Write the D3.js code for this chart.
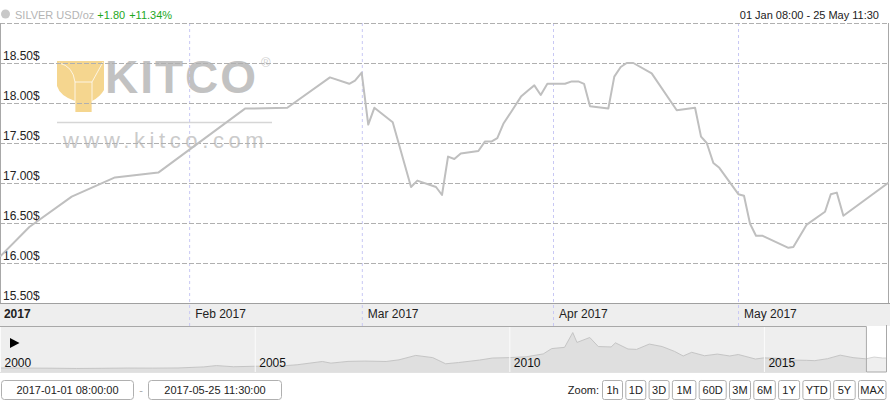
<!DOCTYPE html>
<html><head><meta charset="utf-8">
<script src="https://cdn.jsdelivr.net/npm/d3@7"></script>
<style>
html,body{margin:0;padding:0;background:#fff;}
svg{display:block;font-family:"Liberation Sans",Arial,sans-serif;}
</style></head>
<body><svg id="c" width="890" height="400"></svg>
<script>
// ---- main series: silver price (USD/oz), 2017
const dates = ["2017-01-01 08:00","2017-01-06 02:00","2017-01-12 23:00","2017-01-19 23:30","2017-01-27 00:00",
"2017-02-10 01:30","2017-02-16 22:00","2017-02-23 20:00","2017-02-26 23:00","2017-02-27 21:30","2017-02-28 23:30",
"2017-03-02 01:00","2017-03-03 00:45","2017-03-06 00:15","2017-03-08 23:30","2017-03-10 00:00","2017-03-13 00:45",
"2017-03-14 00:00","2017-03-14 23:30","2017-03-16 00:00","2017-03-17 01:00","2017-03-19 21:30","2017-03-20 23:30",
"2017-03-22 01:30","2017-03-22 23:15","2017-03-23 22:45","2017-03-25 07:30","2017-03-26 19:30","2017-03-28 00:00",
"2017-03-28 23:15","2017-03-30 00:15","2017-03-31 02:00","2017-04-02 22:45","2017-04-04 01:00","2017-04-05 02:30",
"2017-04-06 00:45","2017-04-07 00:00","2017-04-09 23:15","2017-04-10 22:30","2017-04-11 23:30","2017-04-12 22:45",
"2017-04-14 00:30","2017-04-17 00:00","2017-04-21 01:30","2017-04-24 00:45","2017-04-25 00:00","2017-04-25 22:15",
"2017-04-27 00:00","2017-04-27 23:15","2017-05-01 01:15","2017-05-01 23:15","2017-05-02 22:45","2017-05-03 22:00",
"2017-05-05 00:00","2017-05-09 04:00","2017-05-09 23:15","2017-05-12 03:30","2017-05-15 02:30","2017-05-16 01:00",
"2017-05-17 00:15","2017-05-18 02:00","2017-05-25 11:30"];
const prices = [16.08,16.45,16.83,17.07,17.13,
17.93,17.94,18.32,18.24,18.28,18.38,
17.73,17.94,17.76,16.95,17.03,16.95,
16.85,17.33,17.30,17.37,17.40,17.52,
17.52,17.56,17.74,17.90,18.08,18.16,
18.22,18.10,18.24,18.24,18.27,18.27,
18.24,17.96,17.93,18.33,18.45,18.50,
18.50,18.37,17.91,17.94,17.58,17.50,
17.25,17.19,16.86,16.84,16.49,16.34,
16.34,16.19,16.20,16.48,16.64,16.86,
16.88,16.59,17.01];
const yTicks = [15.5,16,16.5,17,17.5,18,18.5,19];
const monthTicks = ["2017-01-01 00:00","2017-02-01 00:00","2017-03-01 00:00","2017-04-01 00:00","2017-05-01 00:00"];
const monthLabels = ["2017","Feb 2017","Mar 2017","Apr 2017","May 2017"];
// ---- navigator series (long history)
const navDates = ["2000-01","2000-07","2001-01","2001-07","2002-01","2002-07","2003-01","2003-07","2004-01","2004-04","2004-08",
"2005-01","2005-07","2005-11","2006-05","2006-07","2006-11","2007-03","2007-08","2007-11","2008-03","2008-07","2008-10",
"2009-01","2009-06","2009-09","2010-01","2010-05","2010-09","2010-11","2011-02","2011-04","2011-05","2011-08","2011-10",
"2012-01","2012-02","2012-05","2012-07","2012-10","2013-01","2013-04","2013-06","2013-08","2013-11","2014-02","2014-05",
"2014-07","2014-11","2015-01","2015-05","2015-08","2015-11","2016-01","2016-04","2016-07","2016-10","2017-01","2017-03","2017-05"];
const navValues = [4.9,4.8,4.6,4.3,4.5,4.8,4.7,4.9,6.2,7.8,6.4,
7.0,7.2,8.8,12.8,10.8,12.9,13.3,12.8,14.8,20.2,17.5,10.0,
11.5,14.5,17.0,17.5,18.5,22.0,28.5,30.0,48.0,36.0,42.0,31.0,
30.5,35.5,28.0,27.5,34.0,31.0,25.0,19.5,24.0,19.8,21.8,19.5,
21.3,15.8,17.2,16.5,14.5,14.2,13.8,16.2,20.5,17.5,16.0,18.2,17.0];
const navYears = ["2000","2005","2010","2015"];
const zoomButtons = ["1h","1D","3D","1M","60D","3M","6M","1Y","YTD","5Y","MAX"];
const rangeFrom = "2017-01-01 08:00:00", rangeTo = "2017-05-25 11:30:00";

const parse = d3.timeParse("%Y-%m-%d %H:%M");
const parseM = d3.timeParse("%Y-%m");
const svg = d3.select("#c");
const W = 890;
const plotL = 0, plotR = 889, plotT = 23, plotB = 303;
const start = parse("2017-01-01 08:00"), end = parse("2017-05-25 11:30");
const x = d3.scaleTime().domain([start,end]).range([plotL, plotR]);
const y = d3.scaleLinear().domain([15.5,19]).range([plotB, plotT]);

// header
svg.append("circle").attr("cx",5.5).attr("cy",14).attr("r",4.5).attr("fill","#c8c8c8");
const ht = svg.append("text").attr("x",15).attr("y",18.5).attr("font-size",11);
ht.append("tspan").attr("fill","#b4b4b4").text("SILVER USD/oz ");
ht.append("tspan").attr("fill","#1ea81e").text("+1.80");
ht.append("tspan").attr("fill","#1ea81e").attr("dx",4).text("+11.34%");
svg.append("text").attr("x",879).attr("y",18.5).attr("font-size",11).attr("fill","#222")
  .attr("text-anchor","end").text("01 Jan 08:00 - 25 May 11:30");

// watermark
const wm = svg.append("g");
wm.append("path").attr("d","M57,61 H104 V90 Q100,97 92,101 V112 H75 V101 Q60,96 57,86 Z").attr("fill","#f5d68f");
wm.append("path").attr("d","M59,63 Q73,66 75,82 M75,82 V112 M75,82 H92 M92,82 L103,62 M92,82 V112")
  .attr("fill","none").attr("stroke","#fff").attr("stroke-width",1).attr("opacity",0.75);
wm.append("text").attr("x",105).attr("y",93).attr("font-size",46).attr("font-weight","bold")
  .attr("letter-spacing",2).attr("fill","#c2c2c2").text("KITCO");
wm.append("text").attr("x",261).attr("y",67).attr("font-size",13).attr("fill","#cfcfcf").text("®");
wm.append("line").attr("x1",57).attr("x2",272).attr("y1",122.5).attr("y2",122.5).attr("stroke","#d6d6d6").attr("stroke-width",1.5);
wm.append("text").attr("x",63).attr("y",148).attr("font-size",22).attr("letter-spacing",4.6)
  .attr("fill","#cbcbcb").text("www.kitco.com");

// x-axis band
svg.append("rect").attr("x",0).attr("y",plotB).attr("width",W).attr("height",326-plotB).attr("fill","#eeeeee");

// month lines + labels
const mt = monthTicks.map(parse);
const xAxis = d3.axisBottom(x).tickValues(mt).tickSize(326-plotT).tickFormat((d,i)=>monthLabels[i]);
const xg = svg.append("g").attr("transform",`translate(0,${plotT})`).call(xAxis);
xg.select(".domain").remove();
xg.selectAll(".tick line").attr("stroke","#c8c8f4").attr("stroke-dasharray","3,3");
xg.selectAll(".tick text").attr("text-anchor","start").attr("x",5.5).attr("y",294.5).attr("dy",0)
  .attr("font-size",12).attr("fill","#222").attr("font-family","Liberation Sans, Arial, sans-serif")
  .attr("font-weight",(d,i)=>i===0?"bold":"normal");

// y gridlines and labels
const yAxis = d3.axisRight(y).tickValues(yTicks).tickSize(plotR).tickFormat(d=>d3.format(".2f")(d)+"$");
const yg = svg.append("g").call(yAxis);
yg.select(".domain").remove();
yg.selectAll(".tick line").attr("stroke","#b0b0b0").attr("stroke-dasharray","5,2");
yg.selectAll(".tick text").attr("x",3).attr("dy",-3.5).attr("text-anchor","start")
  .attr("font-size",12).attr("fill","#222").attr("font-family","Liberation Sans, Arial, sans-serif")
  .style("display",d=>d>=19?"none":null);

// plot borders
svg.append("line").attr("x1",0.5).attr("x2",0.5).attr("y1",plotT).attr("y2",plotB).attr("stroke","#a8a8a8");
svg.append("line").attr("x1",888.5).attr("x2",888.5).attr("y1",plotT).attr("y2",plotB).attr("stroke","#a8a8a8");
svg.append("line").attr("x1",0).attr("x2",W).attr("y1",plotB+0.5).attr("y2",plotB+0.5).attr("stroke","#a0a0a0");

// main line
svg.append("defs").append("clipPath").attr("id","pc").append("rect")
  .attr("x",plotL).attr("y",plotT).attr("width",plotR-plotL).attr("height",plotB-plotT);
const data = dates.map((d,i)=>({t:parse(d),v:prices[i]}));
svg.append("path").datum(data).attr("clip-path","url(#pc)")
  .attr("d",d3.line().x(d=>x(d.t)).y(d=>y(d.v)))
  .attr("fill","none").attr("stroke","#bfbfbf").attr("stroke-width",2).attr("stroke-linejoin","round");

// navigator
const nT = 326, nB = 372;
const nx = d3.scaleTime().domain([parseM("2000-01"), end]).range([0, 886]);
const ny = d3.scaleLinear().domain([0,56]).range([nB, nT]);
svg.append("rect").attr("x",0).attr("y",nT).attr("width",W).attr("height",nB-nT).attr("fill","#fff");
const nd = navDates.map((d,i)=>({t:parseM(d),v:navValues[i]}));
nd.push({t:end, v:navValues[navValues.length-1]});
svg.append("path").datum(nd).attr("d",d3.area().x(d=>nx(d.t)).y0(nB).y1(d=>ny(d.v)))
  .attr("fill","#efefef");
svg.append("path").datum(nd).attr("d",d3.line().x(d=>nx(d.t)).y(d=>ny(d.v)))
  .attr("fill","none").attr("stroke","#d4d4d4").attr("stroke-width",1);
const selL = nx(start), selR = nx(end);
svg.append("rect").attr("x",0).attr("y",nT).attr("width",selL).attr("height",nB-nT).attr("fill","rgba(0,0,0,0.065)");
// navigator year grid + labels
const ny0 = navYears.map(s=>parseM(s+"-01"));
const navAxis = d3.axisBottom(nx).tickValues(ny0).tickSize(nB-nT).tickFormat((d,i)=>navYears[i]);
const ng = svg.append("g").attr("transform",`translate(0,${nT})`).call(navAxis);
ng.select(".domain").remove();
ng.selectAll(".tick line").attr("stroke","#fbfbfb").attr("stroke-width",1);
ng.selectAll(".tick text").attr("text-anchor","start").attr("x",4).attr("y",40.5).attr("dy",0)
  .attr("font-size",12).attr("fill","#111").attr("font-family","Liberation Sans, Arial, sans-serif");
// outline
svg.append("path").attr("d",`M0,${nT+0.5} H${selL+0.5} V${nB} H${selR+0.5} V${nT-1}`)
  .attr("fill","none").attr("stroke","#a8a8a8");
svg.append("line").attr("x1",0).attr("x2",selL).attr("y1",nB+0.5).attr("y2",nB+0.5).attr("stroke","#e2e2e2");
// play triangle
svg.append("path").attr("d","M10,338 L19.5,343 L10,348 Z").attr("fill","#000");

// range inputs
function box(x0,w,label){
  svg.append("rect").attr("x",x0+0.5).attr("y",380.5).attr("width",w).attr("height",19).attr("rx",3)
    .attr("fill","#fff").attr("stroke","#b0b0b0");
  svg.append("text").attr("x",x0+0.5+w/2).attr("y",394).attr("text-anchor","middle").attr("font-size",11)
    .attr("fill","#222").text(label);
}
box(1,132,rangeFrom);
svg.append("text").attr("x",141).attr("y",394).attr("text-anchor","middle").attr("font-size",11).attr("fill","#aaa").text("-");
box(148,133,rangeTo);

// zoom buttons
svg.append("text").attr("x",599).attr("y",394).attr("text-anchor","end").attr("font-size",11).attr("fill","#222").text("Zoom:");
const bw = [20,20,20,23.5,27,21,21.5,21,27.5,21.5,27.5];
let bx = 602.5;
zoomButtons.forEach((b,i)=>{
  svg.append("rect").attr("x",bx).attr("y",380.5).attr("width",bw[i]).attr("height",19).attr("rx",2)
    .attr("fill","#fff").attr("stroke","#b0b0b0");
  svg.append("text").attr("x",bx+bw[i]/2).attr("y",394).attr("text-anchor","middle").attr("font-size",11)
    .attr("fill","#222").text(b);
  bx += bw[i]+3.3;
});
</script></body></html>
